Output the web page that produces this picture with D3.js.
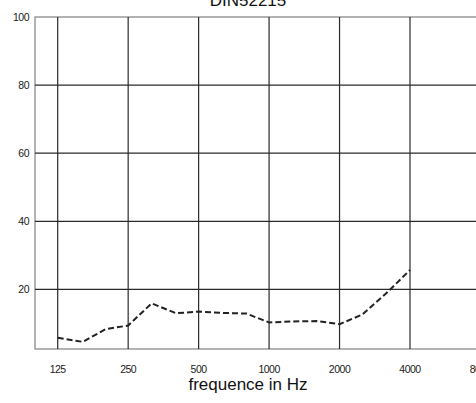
<!DOCTYPE html>
<html>
<head>
<meta charset="utf-8">
<script src="https://cdn.jsdelivr.net/npm/d3@7"></script>
<style>
  body { margin: 0; background: #fff; }
  svg { display: block; }
  text { font-family: "Liberation Sans", Arial, sans-serif; }
</style>
</head>
<body>
<div id="chart"></div>
<script>
// third-octave frequencies and absorption values
var freqs  = [125, 160, 200, 250, 315, 400, 500, 630, 800, 1000, 1250, 1600, 2000, 2500, 3150, 4000];
var values = [5.8, 4.6, 8.3, 9.4, 15.9, 13.0, 13.5, 13.1, 12.9, 10.3, 10.6, 10.7, 9.8, 12.6, 18.7, 25.7];
var xTicks = [125, 250, 500, 1000, 2000, 4000, 8000];
var yTicks = [20, 40, 60, 80, 100];

var W = 476, H = 403;
var svg = d3.select("#chart").append("svg").attr("width", W).attr("height", H);

// note: "top" is taken by window.top, so use other names
var plotLeft = 35, plotTop = 17, plotBottom = 349;

// log scale, one octave ~70px
var x = d3.scaleLog().base(2).domain([125, 4000]).range([57.7, 410]);
var y = d3.scaleLinear().domain([2.5, 100]).range([plotBottom, plotTop]);

// frame
svg.append("rect")
  .attr("x", plotLeft).attr("y", plotTop)
  .attr("width", W - plotLeft + 10).attr("height", plotBottom - plotTop)
  .attr("fill", "none").attr("stroke", "#8a8a8a").attr("stroke-width", 1.3);

// horizontal grid
svg.selectAll(".hg").data(yTicks.filter(function(d){ return d < 100; })).enter().append("line")
  .attr("x1", plotLeft).attr("x2", W)
  .attr("y1", function(d){ return y(d); }).attr("y2", function(d){ return y(d); })
  .attr("stroke", "#2a2a2a").attr("stroke-width", 1.2);

// vertical grid
svg.selectAll(".vg").data(xTicks).enter().append("line")
  .attr("x1", function(d){ return x(d); }).attr("x2", function(d){ return x(d); })
  .attr("y1", plotTop).attr("y2", plotBottom)
  .attr("stroke", "#2a2a2a").attr("stroke-width", 1.2);

// y labels
svg.selectAll(".yl").data(yTicks).enter().append("text")
  .attr("x", 29).attr("y", function(d){ return y(d) + 3.5; })
  .attr("text-anchor", "end")
  .attr("font-size", 10.5).attr("letter-spacing", -0.5)
  .attr("fill", "#1a1a1a")
  .text(function(d){ return d; });

// x labels
svg.selectAll(".xl").data(xTicks).enter().append("text")
  .attr("x", function(d){ return x(d); }).attr("y", 372.5)
  .attr("text-anchor", "middle")
  .attr("font-size", 10.5).attr("letter-spacing", -0.5)
  .attr("fill", "#1a1a1a")
  .text(function(d){ return d; });

// data line
var line = d3.line()
  .x(function(d, i){ return x(freqs[i]); })
  .y(function(d){ return y(d); });

svg.append("path")
  .datum(values)
  .attr("d", line)
  .attr("fill", "none")
  .attr("stroke", "#222")
  .attr("stroke-width", 2)
  .attr("stroke-dasharray", "6,3");

// title (cut off at top)
svg.append("text")
  .attr("x", 248).attr("y", 5.5)
  .attr("text-anchor", "middle")
  .attr("font-size", 17)
  .attr("fill", "#111")
  .text("DIN52215");

// axis title
svg.append("text")
  .attr("x", 248).attr("y", 390)
  .attr("text-anchor", "middle")
  .attr("font-size", 17)
  .attr("fill", "#111")
  .text("frequence in Hz");
</script>
</body>
</html>
